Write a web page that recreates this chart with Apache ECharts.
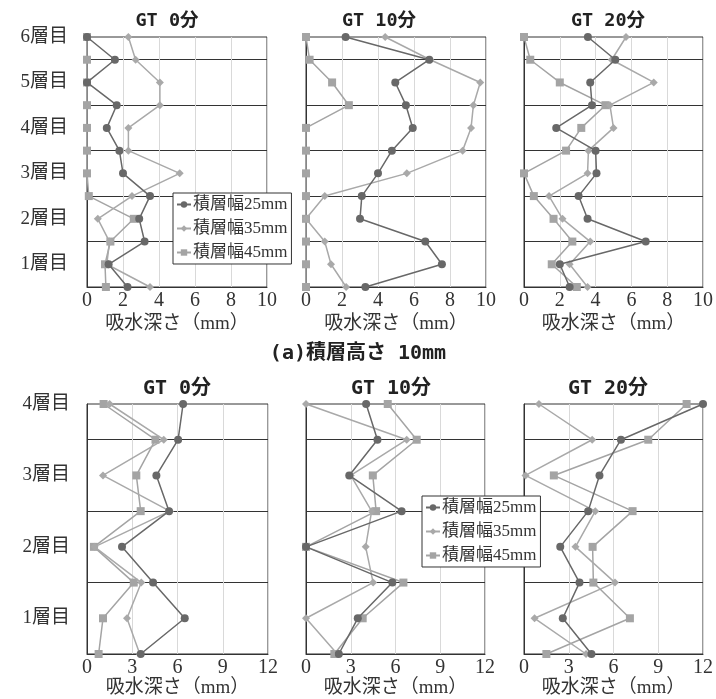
<!DOCTYPE html>
<html>
<head>
<meta charset="utf-8">
<script src="https://cdn.jsdelivr.net/npm/echarts@6/dist/echarts.min.js"></script>
<style>
html,body{margin:0;padding:0;background:#fff;}
#c{width:716px;height:699px;}
</style>
</head>
<body>
<div id="c"></div>
<script>
// ---- tick labels / categories ----
const topLayers = ['6層目', '5層目', '4層目', '3層目', '2層目', '1層目'];
const botLayers = ['4層目', '3層目', '2層目', '1層目'];
const seriesNames = ['積層幅25mm', '積層幅35mm', '積層幅45mm'];
const panelTitles = ['GT 0分', 'GT 10分', 'GT 20分'];
const axisName = '吸水深さ（mm）';
const caption = '(a)積層高さ 10mm';

// ---- (a) top row: 12 points from top to bottom ----
const top_gt0_w25 = [0, 1.55, 0, 1.65, 1.1, 1.8, 2.0, 3.5, 2.9, 3.2, 1.2, 2.25];
const top_gt0_w35 = [2.3, 2.7, 4.05, 4.05, 2.3, 2.3, 5.15, 2.5, 0.6, 1.25, 1.1, 3.5];
const top_gt0_w45 = [0, 0, 0, 0, 0, 0, 0, 0.1, 2.6, 1.3, 1.0, 1.05];

const top_gt10_w25 = [2.2, 6.85, 4.96, 5.55, 5.93, 4.77, 4.0, 3.1, 3.0, 6.63, 7.55, 3.3];
const top_gt10_w35 = [4.4, 6.9, 9.68, 9.3, 9.17, 8.7, 5.6, 1.04, 0, 1.04, 1.39, 2.23];
const top_gt10_w45 = [0, 0.2, 1.45, 2.38, 0, 0, 0, 0, 0, 0, 0, 0];

const top_gt20_w25 = [3.57, 5.1, 3.7, 3.8, 1.8, 4.0, 4.05, 3.05, 3.55, 6.8, 2.0, 2.55];
const top_gt20_w35 = [5.7, 4.9, 7.25, 4.8, 5.0, 3.6, 3.55, 1.4, 2.15, 3.7, 2.55, 3.55];
const top_gt20_w45 = [0, 0.35, 2.0, 4.55, 3.2, 2.35, 0, 0.55, 1.65, 2.7, 1.55, 2.95];

// ---- bottom row: 8 points from top to bottom ----
const bot_gt0_w25 = [6.37, 6.04, 4.6, 5.44, 2.32, 4.38, 6.48, 3.56];
const bot_gt0_w35 = [1.5, 5.09, 1.06, 5.49, 0.5, 3.6, 2.65, 3.5];
const bot_gt0_w45 = [1.1, 4.54, 3.27, 3.56, 0.46, 3.1, 1.06, 0.77];

const bot_gt10_w25 = [4.03, 4.79, 2.9, 6.41, 0, 5.79, 3.47, 2.2];
const bot_gt10_w35 = [0, 6.75, 3.0, 4.4, 4.0, 4.5, 0, 2.1];
const bot_gt10_w45 = [5.48, 7.42, 4.48, 4.7, 0, 6.53, 3.8, 1.9];

const bot_gt20_w25 = [12, 6.5, 5.06, 4.3, 2.43, 3.72, 2.6, 4.52];
const bot_gt20_w35 = [1.0, 4.57, 0.1, 4.78, 3.45, 6.1, 0.71, 4.16];
const bot_gt20_w45 = [10.9, 8.33, 2.0, 7.28, 4.6, 4.65, 7.1, 1.5];

const topXTicks = [0, 10, 2];   // min, max, interval
const botXTicks = [0, 12, 3];

// ---- build ----
const panels = [
  {data: [top_gt0_w25, top_gt0_w35, top_gt0_w45], layers: topLayers, x: topXTicks, showY: true},
  {data: [top_gt10_w25, top_gt10_w35, top_gt10_w45], layers: topLayers, x: topXTicks, showY: false},
  {data: [top_gt20_w25, top_gt20_w35, top_gt20_w45], layers: topLayers, x: topXTicks, showY: false},
  {data: [bot_gt0_w25, bot_gt0_w35, bot_gt0_w45], layers: botLayers, x: botXTicks, showY: true},
  {data: [bot_gt10_w25, bot_gt10_w35, bot_gt10_w45], layers: botLayers, x: botXTicks, showY: false},
  {data: [bot_gt20_w25, bot_gt20_w35, bot_gt20_w45], layers: botLayers, x: botXTicks, showY: false}
];
const gridPos = [
  {left: 87, top: 37, width: 180, height: 250},
  {left: 306, top: 37, width: 180, height: 250},
  {left: 524, top: 37, width: 179, height: 250},
  {left: 87, top: 404, width: 181, height: 250},
  {left: 306, top: 404, width: 179, height: 250},
  {left: 524, top: 404, width: 180, height: 250}
];
const serif = "'Liberation Serif','Noto Sans CJK JP',serif";
const mono = "'DejaVu Sans Mono','Noto Sans CJK JP',monospace";
const colors = ['#686868', '#a9a9a9', '#a4a4a4'];
const symbols = ['circle', 'diamond', 'rect'];
const symbolSizes = [8, 8, 8];

const grid = [], xAxis = [], yAxis = [], series = [];
panels.forEach((p, i) => {
  grid.push(Object.assign({show: true, borderColor: '#333', borderWidth: 1, containLabel: false}, gridPos[i]));
  xAxis.push({
    type: 'value', gridIndex: i, min: p.x[0], max: p.x[1], interval: p.x[2],
    axisLine: {show: true, lineStyle: {color: '#333', width: 1}},
    axisTick: {show: false},
    axisLabel: {fontSize: 20, color: '#333', fontFamily: serif, margin: 4},
    splitLine: {show: true, lineStyle: {color: '#d9d9d9', width: 1}},
    name: axisName, nameLocation: 'middle', nameGap: i < 3 ? 28 : 25,
    nameTextStyle: {fontSize: 19, color: '#333', fontFamily: serif}
  });
  const n = p.data[0].length;
  const cats = [];
  for (let k = 0; k < n; k++) cats.push(String(k));
  const layers = p.layers;
  yAxis.push({
    type: 'category', gridIndex: i, inverse: true, boundaryGap: false, data: cats,
    axisLine: {show: true, lineStyle: {color: '#333', width: 1}},
    axisTick: {show: false},
    axisLabel: {
      show: p.showY, interval: 0, fontSize: 19, color: '#333', fontFamily: serif,
      margin: i < 3 ? 19 : 17,
      formatter: (v) => (Number(v) % 2 === 0 ? layers[Number(v) / 2] : '')
    },
    splitLine: {show: true, interval: (idx) => idx % 2 === 1, lineStyle: {color: '#333', width: 1}}
  });
  p.data.forEach((arr, s) => {
    series.push({
      type: 'line', name: seriesNames[s], xAxisIndex: i, yAxisIndex: i,
      data: arr.map((v, k) => [v, k]),
      symbol: symbols[s], symbolSize: symbolSizes[s], showSymbol: true,
      clip: false, z: 3 + (2 - s),
      lineStyle: {color: colors[s], width: 1.5},
      itemStyle: {color: colors[s]},
      emphasis: {disabled: true},
      animation: false
    });
  });
});

const legendBase = {
  orient: 'vertical', selectedMode: false, data: seriesNames,
  backgroundColor: '#fff', borderColor: '#333', borderWidth: 1,
  padding: [3, 4, 3, 3], itemGap: 7, itemWidth: 14, itemHeight: 8,
  textStyle: {fontSize: 17, color: '#333', fontFamily: serif, padding: [0, 0, 0, -3]},
  z: 10
};
const legend = [
  Object.assign({left: 173, top: 193}, legendBase),
  Object.assign({left: 422, top: 496}, legendBase)
];

const titleCenters = [[167, 21, 18.5], [379, 21, 18.5], [608, 21, 18.5], [177, 389, 20], [391, 389, 20], [608, 389, 20]];
const graphic = titleCenters.map((t, i) => ({
  type: 'text', x: t[0], y: t[1], z: 20,
  style: {text: panelTitles[i % 3], align: 'center', verticalAlign: 'middle',
    fontSize: t[2], fontWeight: 'bold', fontFamily: mono, fill: '#222'}
}));
graphic.push({
  type: 'text', x: 358, y: 354, z: 20,
  style: {text: caption, align: 'center', verticalAlign: 'middle',
    fontSize: 20, fontWeight: 'bold', fontFamily: mono, fill: '#222'}
});

const chart = echarts.init(document.getElementById('c'), null, {renderer: 'canvas'});
chart.setOption({
  animation: false,
  backgroundColor: '#fff',
  grid, xAxis, yAxis, series, legend, graphic
});
</script>
</body>
</html>
